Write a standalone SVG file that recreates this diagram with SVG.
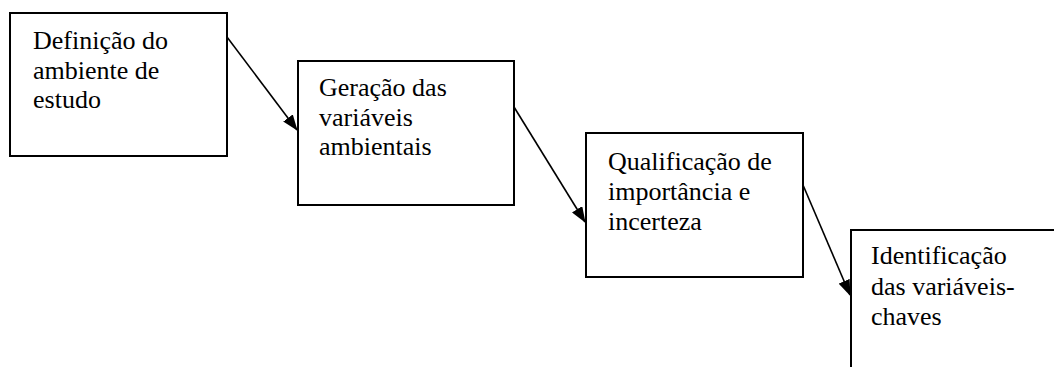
<svg xmlns="http://www.w3.org/2000/svg" width="1054" height="367" viewBox="0 0 1054 367">
<style>
.box{fill:#fff;stroke:#000;stroke-width:2}
.lbl{font-family:"Liberation Serif","Times New Roman",serif;font-size:26px;fill:#000}
.con{stroke:#000;stroke-width:1.6;fill:none}
</style>
<defs>
<marker id="ah" markerUnits="userSpaceOnUse" markerWidth="16" markerHeight="12" refX="15" refY="6" orient="auto">
<path d="M0,0 L16,6 L0,12 Z" fill="#000"/>
</marker>
</defs>
<rect width="1054" height="367" fill="#fff"/>
<g id="n1">
<rect class="box" x="10" y="13" width="217" height="143"/>
<text class="lbl" x="33" y="49">Definição do</text>
<text class="lbl" x="33" y="78.5">ambiente de</text>
<text class="lbl" x="33" y="108">estudo</text>
</g>
<g id="n2">
<rect class="box" x="298" y="61" width="216" height="144"/>
<text class="lbl" x="319" y="96">Geração das</text>
<text class="lbl" x="319" y="125.5">variáveis</text>
<text class="lbl" x="319" y="155">ambientais</text>
</g>
<g id="n3">
<rect class="box" x="586" y="133" width="217" height="144"/>
<text class="lbl" x="608" y="170">Qualificação de</text>
<text class="lbl" x="608" y="200">importância e</text>
<text class="lbl" x="608" y="230">incerteza</text>
</g>
<g id="n4">
<rect class="box" x="851" y="230" width="260" height="200"/>
<text class="lbl" x="871" y="264">Identificação</text>
<text class="lbl" x="871" y="294.5">das variáveis-</text>
<text class="lbl" x="871" y="325">chaves</text>
</g>
<g id="connectors">
<line class="con" x1="227" y1="37" x2="297" y2="130" marker-end="url(#ah)"/>
<line class="con" x1="514" y1="107" x2="585" y2="222" marker-end="url(#ah)"/>
<line class="con" x1="803" y1="185" x2="850" y2="295" marker-end="url(#ah)"/>
</g>
</svg>
